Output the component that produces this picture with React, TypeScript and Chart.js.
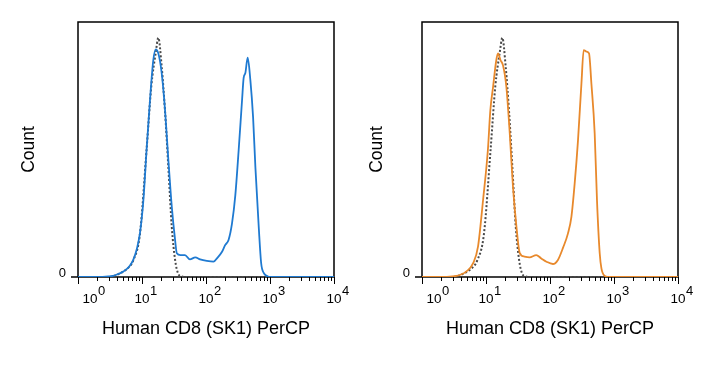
import { useEffect, useRef } from "react";
import { Chart, registerables } from "chart.js";

Chart.register(...registerables);

// Axis text
const xTitle = "Human CD8 (SK1) PerCP";
const yTitle = "Count";
const yZeroLabel = "0";
const decadeExponents = ["0", "1", "2", "3", "4"];

// Isotype control histogram (dotted), same in both panels
const controlX = [1, 3, 4, 5, 5.7, 7.3, 9.3, 11.8, 14, 16.4, 18, 20.3, 22.9, 25.8, 29.2, 32.9, 37, 42, 50, 10000];
const controlY = [0, 0, 0.8, 2, 3, 6.5, 17, 50, 75, 88, 93.8, 82.5, 65, 43.1, 19.6, 6.7, 1.2, 0.2, 0, 0];

// CD8 stained sample, left panel
const blueX = [1, 2, 3, 3.5, 4, 5, 5.7, 6.5, 7.3, 8.3, 9.3, 10.5, 11.8, 13.3, 15, 16.4, 18, 20.3, 22.9, 25.8, 29.2, 32.9, 35, 40, 47, 56, 68, 81, 103, 131, 148, 178, 199, 225, 255, 287, 324, 366, 387, 412, 448, 493, 544, 591, 667, 727, 798, 902, 1000, 10000];
const blueY = [0, 0, 0.2, 0.4, 0.9, 2, 3, 4.5, 6.7, 11, 17.3, 30, 50, 69, 85, 89.3, 87.7, 80, 65.5, 46, 27.5, 14.5, 9.3, 8.6, 8.6, 6.9, 7.7, 6.9, 6.3, 6.0, 7.3, 9.9, 12.5, 14.5, 21, 32, 49.8, 69.4, 78, 80, 86, 77.3, 62.7, 43.1, 19.6, 5.5, 1.6, 0.4, 0, 0];

// CD8 stained sample, right panel
const orangeX = [1, 2, 3, 3.45, 3.9, 4.9, 6.3, 7.5, 9, 10.7, 11.7, 12.9, 14.5, 15.4, 16.8, 18.4, 20.8, 23.5, 26.4, 29.9, 33.6, 40, 48, 61, 73, 88, 111, 133, 160, 191, 216, 243, 274, 310, 336, 371, 407, 443, 499, 542, 598, 636, 716, 800, 10000];
const orangeY = [0, 0, 0.2, 0.4, 0.8, 2.1, 5.4, 11.9, 30.2, 49.8, 65.5, 74.6, 85.1, 87.7, 85.1, 83.1, 74.6, 56.4, 35.4, 19.7, 9.5, 8.0, 7.7, 8.6, 7.3, 6.0, 5.1, 6.7, 11.5, 17.1, 23.6, 36.7, 53.7, 76, 89, 88.4, 87.7, 76, 56.4, 30.2, 9.3, 3.4, 0.4, 0, 0];

const FONT = "'Liberation Sans', Arial, Helvetica, sans-serif";

const zip = (xs: number[], ys: number[]) => xs.map((x, i) => ({ x, y: ys[i] }));

function makeAxesPlugin(countOffset: number) {
  return {
    id: "flowAxes",
    beforeDatasetsDraw(chart: any) {
      const { ctx, chartArea: a, scales } = chart;
      const x = scales.x;
      ctx.save();
      ctx.strokeStyle = "#000";
      ctx.lineWidth = 1.5;
      ctx.beginPath();
      ctx.moveTo(a.left, a.bottom);
      ctx.lineTo(a.left, a.top);
      ctx.lineTo(a.right, a.top);
      ctx.lineTo(a.right, a.bottom);
      ctx.stroke();
      ctx.beginPath();
      ctx.moveTo(a.left - 7, a.bottom);
      ctx.lineTo(a.right, a.bottom);
      ctx.stroke();

      // decade and sub-decade tick marks
      ctx.lineWidth = 1;
      for (let d = 0; d <= 4; d++) {
        for (let m = 1; m <= 9; m++) {
          if (d === 4 && m > 1) break;
          const v = m * Math.pow(10, d);
          const px = Math.round(x.getPixelForValue(v)) + 0.5;
          const len = m === 1 ? 7 : 4;
          ctx.beginPath();
          ctx.moveTo(px, a.bottom);
          ctx.lineTo(px, a.bottom + len);
          ctx.stroke();
        }
      }
      ctx.restore();
    },
    afterDraw(chart: any) {
      const { ctx, chartArea: a, scales } = chart;
      const x = scales.x;
      ctx.save();
      ctx.fillStyle = "#000";

      // 10^n labels
      decadeExponents.forEach((e, i) => {
        const px = x.getPixelForValue(Math.pow(10, i)) + (i === 0 ? 12 : 0);
        ctx.font = `13.5px ${FONT}`;
        ctx.textAlign = "center";
        ctx.textBaseline = "alphabetic";
        ctx.fillText("10", px, a.bottom + 26);
        const w = ctx.measureText("10").width;
        ctx.font = `13px ${FONT}`;
        ctx.textAlign = "left";
        ctx.fillText(e, px + w / 2 + 0.5, a.bottom + 18);
      });

      // y zero label
      ctx.font = `13px ${FONT}`;
      ctx.textAlign = "right";
      ctx.fillText(yZeroLabel, a.left - 12, a.bottom);

      // axis titles
      ctx.font = `18px ${FONT}`;
      ctx.textAlign = "center";
      ctx.fillText(xTitle, (a.left + a.right) / 2, a.bottom + 56.5);

      ctx.save();
      ctx.translate(a.left - countOffset, (a.top + a.bottom) / 2);
      ctx.rotate(-Math.PI / 2);
      ctx.font = `17.5px ${FONT}`;
      ctx.textAlign = "center";
      ctx.fillText(yTitle, 0, 0);
      ctx.restore();

      ctx.restore();
    },
  };
}

function Panel(props: { sampleX: number[]; sampleY: number[]; color: string; left: number; countOffset: number }) {
  const ref = useRef<HTMLCanvasElement>(null);
  useEffect(() => {
    const chart = new Chart(ref.current!, {
      type: "line",
      data: {
        datasets: [
          {
            data: zip(props.sampleX, props.sampleY),
            borderColor: props.color,
            borderWidth: 1.8,
            pointRadius: 0,
            cubicInterpolationMode: "monotone",
            fill: false,
          },
          {
            data: zip(controlX, controlY),
            borderColor: "#4a4a4a",
            borderWidth: 2,
            borderDash: [2, 2],
            pointRadius: 0,
            cubicInterpolationMode: "monotone",
            fill: false,
          },
        ],
      },
      options: {
        responsive: false,
        animation: false,
        parsing: false,
        layout: { padding: { left: 78, top: 22, right: 26, bottom: 100 } },
        plugins: { legend: { display: false }, tooltip: { enabled: false } },
        scales: {
          x: { type: "logarithmic", min: 1, max: 10000, display: false },
          y: { type: "linear", min: 0, max: 100, display: false },
        },
      },
      plugins: [makeAxesPlugin(props.countOffset)],
    } as any);
    return () => chart.destroy();
  }, []);
  return (
    <canvas
      ref={ref}
      width={360}
      height={377}
      style={{ position: "absolute", left: props.left, top: 0, width: 360, height: 377 }}
    />
  );
}

export default function App() {
  return (
    <div style={{ position: "absolute", left: 0, top: 0, width: 717, height: 377, background: "#fff", overflow: "hidden" }}>
      <Panel sampleX={blueX} sampleY={blueY} color="#1f7ad1" left={0} countOffset={44} />
      <Panel sampleX={orangeX} sampleY={orangeY} color="#e8892c" left={344} countOffset={40} />
    </div>
  );
}
